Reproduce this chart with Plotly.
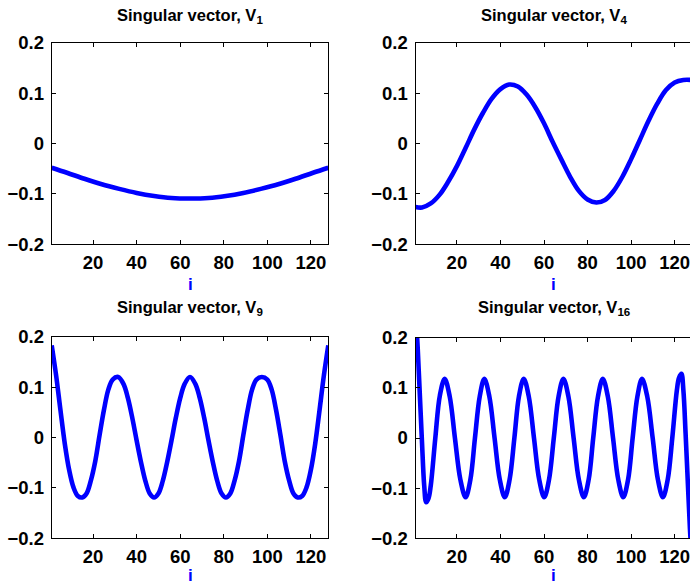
import plotly.graph_objects as go

# ---- data: singular vector components versus index i ----
v1_i = [1, 8, 16, 24, 32, 40, 48, 56, 64.5, 73, 81, 89, 97, 105, 113, 121, 128]
v1_val = [-0.048, -0.058, -0.070, -0.081, -0.090, -0.098, -0.104, -0.108, -0.109,
          -0.108, -0.104, -0.098, -0.090, -0.081, -0.070, -0.058, -0.048]

v4_i = [1, 4, 8, 12, 16, 20, 24, 28, 32, 36, 40, 44, 48, 52, 56, 60, 64, 68, 72,
        76, 80, 84, 88, 92, 96, 100, 104, 108, 112, 116, 120, 124, 128]
v4_val = [-0.126, -0.127, -0.119, -0.102, -0.076, -0.045, -0.009, 0.028, 0.061,
          0.089, 0.108, 0.117, 0.113, 0.097, 0.072, 0.040, 0.003, -0.032, -0.066,
          -0.094, -0.111, -0.117, -0.112, -0.094, -0.066, -0.031, 0.007, 0.045,
          0.079, 0.106, 0.121, 0.126, 0.126]

v9_i = [1, 3, 5, 7, 9, 11, 13, 15, 17, 19, 21, 23, 25, 27, 29, 31.5, 34, 36, 38,
        40, 42, 44, 46, 48, 50, 52, 54, 56, 58, 60, 62, 64.5, 67, 69, 71, 73, 75,
        77, 79, 81, 83, 85, 87, 89, 91, 93, 95, 97.5, 100, 102, 104, 106, 108, 110,
        112, 114, 116, 118, 120, 122, 124, 126, 128]
v9_val = [0.183, 0.124, 0.055, -0.012, -0.064, -0.099, -0.116, -0.119, -0.111,
          -0.085, -0.047, 0.005, 0.055, 0.095, 0.115, 0.120, 0.106, 0.078, 0.039,
          -0.006, -0.049, -0.086, -0.111, -0.119, -0.111, -0.086, -0.049, -0.006,
          0.039, 0.078, 0.106, 0.120, 0.106, 0.078, 0.039, -0.006, -0.049, -0.086,
          -0.111, -0.119, -0.111, -0.085, -0.047, 0.005, 0.055, 0.095, 0.115, 0.120,
          0.115, 0.095, 0.055, 0.005, -0.047, -0.085, -0.111, -0.119, -0.116,
          -0.099, -0.064, -0.012, 0.055, 0.124, 0.183]

v16_i = [1, 2, 3, 4, 5, 5.9, 7, 8, 10.1, 12.2, 14.4, 16.7, 19.1, 21.6, 24.0, 26.2,
         28.3, 30.5, 32.6, 34.9, 37.3, 39.7, 42.0, 44.2, 46.4, 48.5, 50.7, 53.0,
         55.4, 57.8, 60.1, 62.3, 64.5, 66.7, 68.9, 71.2, 73.6, 76.0, 78.3, 80.5,
         82.6, 84.8, 87.0, 89.3, 91.7, 94.1, 96.4, 98.6, 100.7, 102.9, 105.0, 107.4,
         109.9, 112.3, 114.6, 116.8, 118.9, 121, 122, 123.1, 124, 125, 126, 127, 128]
v16_val = [0.260, 0.180, 0.085, -0.010, -0.095, -0.128, -0.120, -0.095, 0.0, 0.085,
           0.118, 0.083, 0.0, -0.083, -0.118, -0.083, 0.0, 0.083, 0.118, 0.083, 0.0,
           -0.083, -0.118, -0.083, 0.0, 0.083, 0.118, 0.083, 0.0, -0.083, -0.118,
           -0.083, 0.0, 0.083, 0.118, 0.083, 0.0, -0.083, -0.118, -0.083, 0.0, 0.083,
           0.118, 0.083, 0.0, -0.083, -0.118, -0.083, 0.0, 0.083, 0.118, 0.083, 0.0,
           -0.083, -0.118, -0.083, 0.0, 0.095, 0.120, 0.128, 0.095, 0.010, -0.085,
           -0.180, -0.260]

titles = ["Singular vector, V<sub>1</sub>", "Singular vector, V<sub>4</sub>",
          "Singular vector, V<sub>9</sub>", "Singular vector, V<sub>16</sub>"]
x_ticks = [20, 40, 60, 80, 100, 120]
y_ticks = [-0.2, -0.1, 0, 0.1, 0.2]
y_labels = ["\u22120.2", "\u22120.1", "0", "0.1", "0.2"]
x_label = "i"

series = [(v1_i, v1_val), (v4_i, v4_val), (v9_i, v9_val), (v16_i, v16_val)]

# ---- layout geometry (pixels in a 690 x 585 page) ----
W, H = 690, 585
FONT = "Liberation Sans, Arial, Helvetica, sans-serif"
# (left, right, top, bottom) of each plot box in pixels
boxes = [(51.7, 328.3, 42.7, 244.3), (415.5, 690.0, 42.7, 244.3),
         (51.7, 328.3, 336.7, 538.3), (415.5, 690.0, 337.7, 538.3)]
px_per_unit = (328.3 - 51.7) / 127.0
title_y = [16, 16, 308, 308]
label_y = [284, 284, 575, 575]

fig = go.Figure()
layout = dict(width=W, height=H, margin=dict(l=0, r=0, t=0, b=0, autoexpand=False),
              paper_bgcolor="white", plot_bgcolor="white", showlegend=False,
              annotations=[])

for k, ((xs, ys), (l, r, t, b)) in enumerate(zip(series, boxes)):
    n = "" if k == 0 else str(k + 1)
    xa, ya = "x" + n, "y" + n
    fig.add_trace(go.Scatter(x=xs, y=ys, xaxis=xa, yaxis=ya, mode="lines",
                             line=dict(color="#0000ff", width=4.6, shape="spline",
                                       smoothing=1.0),
                             hoverinfo="skip"))
    x_hi = 1 + (r - l) / px_per_unit
    right_col = k % 2 == 1
    layout["xaxis" + n] = dict(
        domain=[l / W, r / W], range=[1, x_hi], anchor=ya, automargin=False,
        tickvals=x_ticks, ticks="inside", ticklen=4, tickcolor="#000",
        showline=True, linecolor="#000", linewidth=1, mirror="ticks",
        showgrid=False, zeroline=False, ticklabelstandoff=1,
        ticklabeloverflow="allow",
        tickfont=dict(family=FONT, size=18.5, color="#000", weight="bold"))
    layout["yaxis" + n] = dict(
        domain=[1 - b / H, 1 - t / H], range=[-0.2, 0.2], anchor=xa,
        automargin=False,
        tickvals=y_ticks, ticktext=y_labels, ticks="inside", ticklen=4,
        tickcolor="#000", showline=True, linecolor="#000", linewidth=1,
        mirror=False if right_col else "ticks",
        showgrid=False, zeroline=False, ticklabelstandoff=3,
        ticklabeloverflow="allow",
        tickfont=dict(family=FONT, size=18.5, color="#000", weight="bold"))
    layout["annotations"].append(dict(
        text=titles[k], xref=xa, x=64.5, yref="paper", y=1 - title_y[k] / H,
        xanchor="center", yanchor="middle", showarrow=False,
        font=dict(family=FONT, size=16.5, color="#000", weight="bold")))
    layout["annotations"].append(dict(
        text=x_label, xref=xa, x=64.5, yref="paper", y=1 - label_y[k] / H,
        xanchor="center", yanchor="middle", showarrow=False,
        font=dict(family=FONT, size=17, color="#0000ff", weight="bold")))

fig.update_layout(**layout)
fig.write_html("out.html")
